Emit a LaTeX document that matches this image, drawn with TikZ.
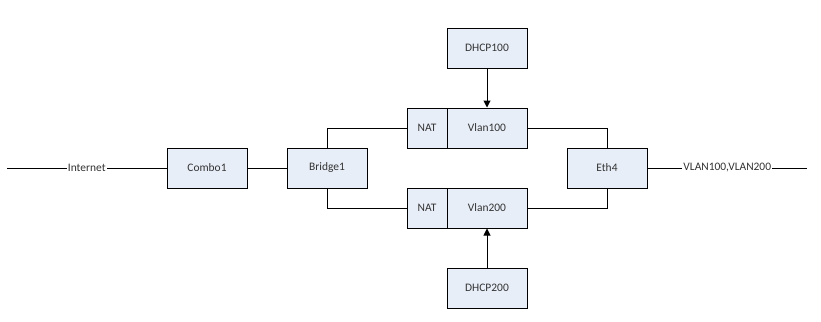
\documentclass[tikz,border=0pt]{standalone}
\usepackage{fontspec}
\setmainfont{Carlito}
\usetikzlibrary{arrows.meta}
\definecolor{boxfill}{HTML}{E8EEF8}
\definecolor{txt}{HTML}{333333}
\tikzset{
  box/.style={draw=black, fill=boxfill, line width=1bp, minimum width=80bp, minimum height=40bp, inner sep=0pt, font=\fontsize{11.5}{13}\selectfont, text=txt},
  natbox/.style={box, minimum width=40bp},
  conn/.style={line width=1bp, black},
  lbl/.style={fill=white, inner sep=1pt, font=\fontsize{11.5}{13}\selectfont, text=txt},
  arr/.style={conn, -{Triangle[width=7bp,length=7bp]}}
}
\begin{document}
\begin{tikzpicture}[x=1bp,y=-1bp]
\useasboundingbox (0,0) rectangle (821,321);
\node[box] (combo) at (207,168) {Combo1};
\node[box] (bridge) at (327,168) {Bridge1};
\node[natbox] (nat1) at (427,128) {NAT};
\node[box] (vlan1) at (487,128) {Vlan100};
\node[natbox] (nat2) at (427,208) {NAT};
\node[box] (vlan2) at (487,208) {Vlan200};
\node[box] (eth) at (607,168) {Eth4};
\node[box] (dhcp1) at (487,48) {DHCP100};
\node[box] (dhcp2) at (487,288) {DHCP200};
\coordinate (inl) at (7,168);
\coordinate (outr) at (807,168);
\draw[conn] (inl) -- node[lbl] (internet) {Internet} (combo.west);
\draw[conn] (eth.east) -- node[lbl] (vlans) {VLAN100,VLAN200} (outr);
\draw[conn] (combo.east) -- (bridge.west);
\draw[conn] (bridge.north) |- (nat1.west);
\draw[conn] (bridge.south) |- (nat2.west);
\draw[conn] (vlan1.east) -| (eth.north);
\draw[conn] (vlan2.east) -| (eth.south);
\draw[arr] (dhcp1.south) -- (vlan1.north);
\draw[arr] (dhcp2.north) -- (vlan2.south);
\end{tikzpicture}
\end{document}
